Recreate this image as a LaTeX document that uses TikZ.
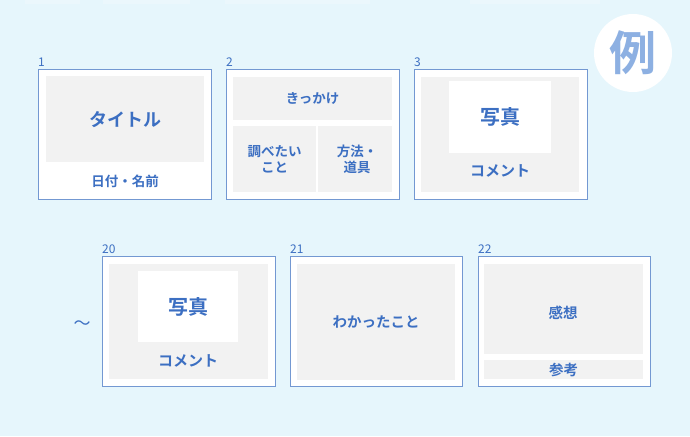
\documentclass[tikz,border=0pt]{standalone}
\usepackage{fontspec}
\newfontfamily\jp{Noto Sans CJK JP}[BoldFont={Noto Sans CJK JP Bold}]
\definecolor{bg}{HTML}{E6F6FC}
\definecolor{frame}{HTML}{7398D2}
\definecolor{panel}{HTML}{F2F2F2}
\definecolor{ink}{HTML}{3C6FC2}
\definecolor{rei}{HTML}{8DB0E2}
\newcommand{\fs}[1]{\fontsize{#1}{#1}\selectfont}
\newcommand{\fsl}{\fontsize{13.5}{16}\selectfont}
\tikzset{
  sheet/.style={draw=frame, line width=1.1pt, fill=white, anchor=north west, inner sep=0pt},
  part/.style={fill=panel, anchor=north west, inner sep=0pt},
  photo/.style={fill=white, anchor=north west, inner sep=0pt},
  lbl/.style={text=ink, inner sep=0pt, align=center},
  num/.style={text=ink, font=\jp\fs{12}, inner sep=0pt, anchor=south west},
}
\begin{document}
\begin{tikzpicture}[x=1pt,y=-1pt]
\fill[bg] (0,0) rectangle (690,436);
\useasboundingbox (0,0) rectangle (690,436);
% faint bars at top edge
\fill[white,opacity=0.2] (25,0) rectangle (80,4);
\fill[white,opacity=0.2] (103,0) rectangle (190,4);
\fill[white,opacity=0.2] (225,0) rectangle (370,4);
\fill[white,opacity=0.2] (470,0) rectangle (600,4);

% example badge
\node[circle, fill=white, minimum size=78pt, inner sep=0pt] (badge) at (633,53) {};
\node[text=rei, font=\jp\bfseries\fs{47}, inner sep=0pt] (reitext) at (badge.center) {例};

% ---- sheet 1
\node[sheet, minimum width=173pt, minimum height=130pt] (s1) at (38,69) {};
\node[num] (n1) at (38,67) {1};
\node[part, minimum width=158pt, minimum height=86pt] (s1a) at (46,76) {};
\node[lbl, font=\jp\bfseries\fs{18}] (t1a) at (s1a.center) {タイトル};
\node[lbl, font=\jp\bfseries\fs{13.5}] (t1b) at (125,181) {日付・名前};

% ---- sheet 2
\node[sheet, minimum width=173pt, minimum height=130pt] (s2) at (226,69) {};
\node[num] (n2) at (226,67) {2};
\node[part, minimum width=159pt, minimum height=43pt] (s2a) at (233,77) {};
\node[part, minimum width=83pt, minimum height=66pt] (s2b) at (233,126) {};
\node[part, minimum width=74pt, minimum height=66pt] (s2c) at (318,126) {};
\node[lbl, font=\jp\bfseries\fs{13.5}] (t2a) at (s2a.center) {きっかけ};
\node[lbl, font=\jp\bfseries\fsl] (t2b) at (s2b.center) {調べたい\\こと};
\node[lbl, font=\jp\bfseries\fsl] (t2c) at ([xshift=2pt]s2c.center) {方法・\\道具};

% ---- sheet 3
\node[sheet, minimum width=173pt, minimum height=130pt] (s3) at (414,69) {};
\node[num] (n3) at (414,67) {3};
\node[part, minimum width=158pt, minimum height=115pt] (s3a) at (421,77) {};
\node[photo, minimum width=102pt, minimum height=72pt] (s3p) at (449,81) {};
\node[lbl, font=\jp\bfseries\fs{20}] (t3a) at (s3p.center) {写真};
\node[lbl, font=\jp\bfseries\fs{15}] (t3b) at (500,171) {コメント};

% ---- tilde
\node[text=ink, font=\jp\fs{17}, inner sep=0pt] (tilde) at (82,325) {～};

% ---- sheet 20
\node[sheet, minimum width=173pt, minimum height=130pt] (s20) at (102,256) {};
\node[num] (n20) at (102,254) {20};
\node[part, minimum width=159pt, minimum height=115pt] (s20a) at (109,264) {};
\node[photo, minimum width=100pt, minimum height=71pt] (s20p) at (138,271) {};
\node[lbl, font=\jp\bfseries\fs{20}] (t20a) at (s20p.center) {写真};
\node[lbl, font=\jp\bfseries\fs{15}] (t20b) at (188,361) {コメント};

% ---- sheet 21
\node[sheet, minimum width=172pt, minimum height=130pt] (s21) at (290,256) {};
\node[num] (n21) at (290,254) {21};
\node[part, minimum width=158pt, minimum height=116pt] (s21a) at (297,264) {};
\node[lbl, font=\jp\bfseries\fs{14.5}] (t21a) at (s21a.center) {わかったこと};

% ---- sheet 22
\node[sheet, minimum width=172pt, minimum height=130pt] (s22) at (478,256) {};
\node[num] (n22) at (478,254) {22};
\node[part, minimum width=159pt, minimum height=90pt] (s22a) at (484,264) {};
\node[part, minimum width=159pt, minimum height=19pt] (s22b) at (484,360) {};
\node[lbl, font=\jp\bfseries\fs{14.5}] (t22a) at (563,313) {感想};
\node[lbl, font=\jp\bfseries\fs{14.5}] (t22b) at (s22b.center) {参考};
\end{tikzpicture}
\end{document}
